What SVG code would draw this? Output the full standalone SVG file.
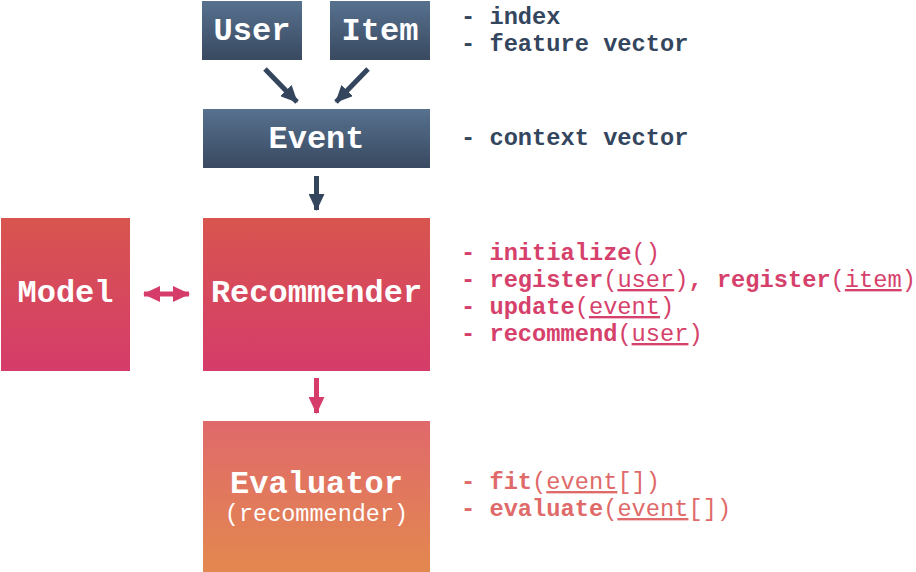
<svg xmlns="http://www.w3.org/2000/svg" width="916" height="572" viewBox="0 0 916 572">
<defs>
<linearGradient id="gDark" x1="0" y1="0" x2="0" y2="1"><stop offset="0" stop-color="#57718f"/><stop offset="1" stop-color="#394960"/></linearGradient>
<linearGradient id="gRed" x1="0" y1="0" x2="0" y2="1"><stop offset="0" stop-color="#d8554f"/><stop offset="1" stop-color="#d53c6a"/></linearGradient>
<linearGradient id="gOrange" x1="0" y1="0" x2="0" y2="1"><stop offset="0" stop-color="#e0696b"/><stop offset="1" stop-color="#e3884f"/></linearGradient>
<marker id="hDark" viewBox="0 0 17 16" refX="16" refY="8" markerWidth="17" markerHeight="16" markerUnits="userSpaceOnUse" orient="auto"><path d="M0,0 L17,8 L0,16 Z" fill="#34465e"/></marker>
<marker id="hRed" viewBox="0 0 17 16" refX="16" refY="8" markerWidth="17" markerHeight="16" markerUnits="userSpaceOnUse" orient="auto-start-reverse"><path d="M0,0 L17,8 L0,16 Z" fill="#d63c6a"/></marker>
<style>
.lbl{font-family:"Courier New","Liberation Mono",monospace;font-weight:bold;font-size:32px;fill:#ffffff;text-anchor:middle}
.sub{font-family:"Courier New","Liberation Mono",monospace;font-size:23.5px;fill:#ffffff;text-anchor:middle}
.note{font-family:"Courier New","Liberation Mono",monospace;font-size:23.7px}
.b{font-weight:bold}
.u{text-decoration:underline}
.dark{fill:#34465e}
.red{fill:#d6416b}
.sal{fill:#e06a6a}
.cd{stroke:#34465e;stroke-width:5;fill:none}
.cr{stroke:#d63c6a;stroke-width:5;fill:none}
</style>
</defs>
<g id="user"><rect x="202" y="1" width="100" height="59" fill="url(#gDark)"/><text class="lbl" x="252" y="40">User</text></g>
<g id="item"><rect x="330" y="1" width="100" height="59" fill="url(#gDark)"/><text class="lbl" x="380" y="40">Item</text></g>
<g id="event"><rect x="203" y="109" width="227" height="59" fill="url(#gDark)"/><text class="lbl" x="316.5" y="148">Event</text></g>
<g id="model"><rect x="1" y="218" width="129" height="153" fill="url(#gRed)"/><text class="lbl" x="65.5" y="302">Model</text></g>
<g id="recommender"><rect x="203" y="218" width="227" height="153" fill="url(#gRed)"/><text class="lbl" x="316.5" y="302">Recommender</text></g>
<g id="evaluator"><rect x="203" y="421" width="227" height="151" fill="url(#gOrange)"/><text class="lbl" x="316.5" y="493">Evaluator</text><text class="sub" x="316.5" y="521">(recommender)</text></g>
<g id="connectors">
<line class="cd" x1="265" y1="69" x2="297" y2="102" marker-end="url(#hDark)"/>
<line class="cd" x1="368" y1="69" x2="336" y2="102" marker-end="url(#hDark)"/>
<line class="cd" x1="316.5" y1="176" x2="316.5" y2="210" marker-end="url(#hDark)"/>
<line class="cr" x1="144" y1="294" x2="189" y2="294" marker-start="url(#hRed)" marker-end="url(#hRed)"/>
<line class="cr" x1="316.5" y1="378" x2="316.5" y2="413" marker-end="url(#hRed)"/>
</g>
<g id="notes-user-item">
<text class="note b dark" x="461" y="24">- index</text>
<text class="note b dark" x="461" y="51">- feature vector</text>
</g>
<g id="notes-event"><text class="note b dark" x="461" y="145">- context vector</text></g>
<g id="notes-recommender">
<text class="note red" x="461" y="260"><tspan class="b">- initialize</tspan>()</text>
<text class="note red" x="461" y="287"><tspan class="b">- register</tspan>(<tspan class="u">user</tspan>)<tspan class="b">, register</tspan>(<tspan class="u">item</tspan>)</text>
<text class="note red" x="461" y="314"><tspan class="b">- update</tspan>(<tspan class="u">event</tspan>)</text>
<text class="note red" x="461" y="341"><tspan class="b">- recommend</tspan>(<tspan class="u">user</tspan>)</text>
</g>
<g id="notes-evaluator">
<text class="note sal" x="461" y="489"><tspan class="b">- fit</tspan>(<tspan class="u">event</tspan>[])</text>
<text class="note sal" x="461" y="516"><tspan class="b">- evaluate</tspan>(<tspan class="u">event</tspan>[])</text>
</g>
</svg>
